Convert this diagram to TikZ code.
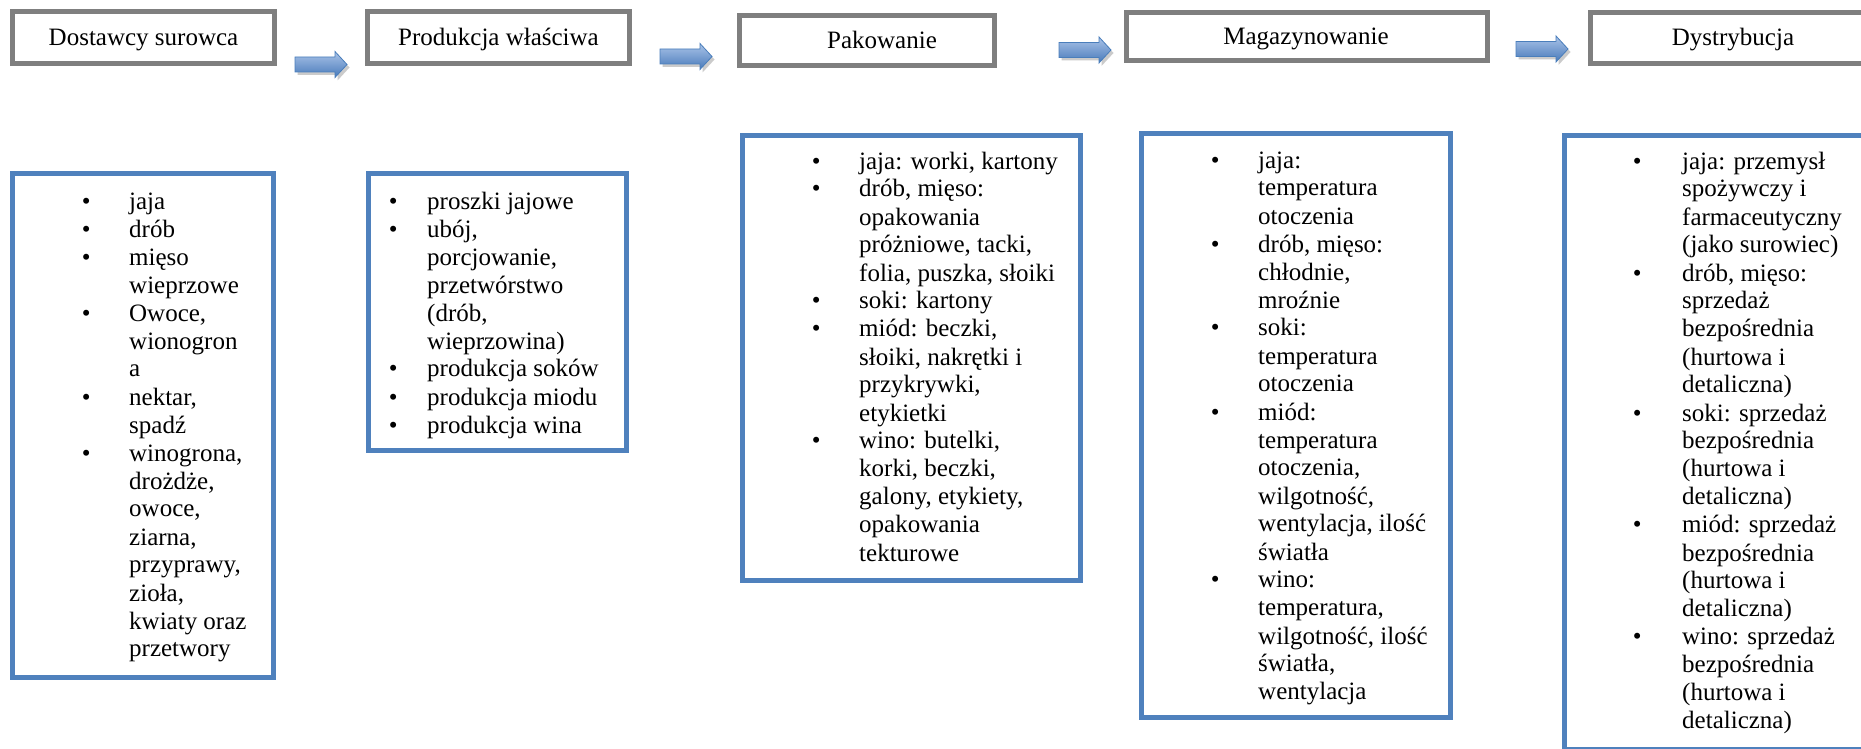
\documentclass[tikz,border=0pt]{standalone}
\usepackage{fontspec}
\setmainfont{Liberation Serif}
\definecolor{boxblue}{RGB}{79,129,189}
\definecolor{boxgray}{RGB}{127,127,127}
\definecolor{arrowtop}{RGB}{170,195,232}
\definecolor{arrowbot}{RGB}{72,122,186}
\definecolor{arrowline}{RGB}{74,126,187}
\newlength\bulw
\newcommand\bitem[1]{\hbox{\hbox to \bulw{•\hfil}#1}}
\newcommand\citem[1]{\hbox{\hskip\bulw #1}}
\newcommand\listbox[2]{\setlength\bulw{#1}\vtop{\baselineskip=28pt\lineskiplimit=-100pt #2}}
\tikzset{
  graybox/.style={draw=boxgray, line width=5pt},
  bluebox/.style={draw=boxblue, line width=5pt},
  toplabel/.style={anchor=base, inner sep=0pt},
  listtext/.style={anchor=base west, inner sep=0pt},
  arrowfill/.style={top color=arrowtop, bottom color=arrowbot, draw=arrowline, line width=0.8pt, line join=miter},
  arrowshadow/.style={fill=black!45, opacity=0.45}
}
\newcommand\blockarrow[3]{%
  \coordinate (#1) at (#2,#3);
  \path[arrowshadow] ([shift={(2.5,3)}]#1) ++(0,-7.5) -- ++(40,0) -- ++(0,-5.5) -- ++(12,13) -- ++(-12,13) -- ++(0,-5.5) -- ++(-40,0) -- cycle;
  \path[arrowfill] (#1) ++(0,-7.5) -- ++(40,0) -- ++(0,-5.5) -- ++(12,13) -- ++(-12,13) -- ++(0,-5.5) -- ++(-40,0) -- cycle;
}
\begin{document}
\begin{tikzpicture}[x=1pt, y=-1pt, font=\fontsize{25}{28}\selectfont]
\useasboundingbox[fill=white] (0,0) rectangle (1861,749);

% top process boxes
\draw[graybox] (12.5,11.5) rectangle (274.5,63.5);
\node[toplabel] (t1) at (143.5,46) {Dostawcy surowca};
\draw[graybox] (367.5,11.5) rectangle (629.5,63.5);
\node[toplabel] (t2) at (498.5,46) {Produkcja właściwa};
\draw[graybox] (739.5,15.5) rectangle (994.5,65.5);
\node[toplabel] (t3) at (882,49) {Pakowanie};
\draw[graybox] (1126.5,12.5) rectangle (1487.5,60.5);
\node[toplabel] (t4) at (1306,45) {Magazynowanie};
\draw[graybox] (1590.5,12.5) rectangle (1885,63.5);
\node[toplabel] (t5) at (1733,46) {Dystrybucja};

% block arrows
\blockarrow{a1}{295}{64.5}
\blockarrow{a2}{660}{56.5}
\blockarrow{a3}{1059}{50}
\blockarrow{a4}{1516}{49}

% lower boxes
\draw[bluebox] (12.5,173.5) rectangle (273.5,677.5);
\node[listtext] (l1) at (81.6,209) {\listbox{47.4pt}{%
\bitem{jaja}
\bitem{drób}
\bitem{mięso}
\citem{wieprzowe}
\bitem{Owoce,}
\citem{wionogron}
\citem{a}
\bitem{nektar,}
\citem{spadź}
\bitem{winogrona,}
\citem{drożdże,}
\citem{owoce,}
\citem{ziarna,}
\citem{przyprawy,}
\citem{zioła,}
\citem{kwiaty oraz}
\citem{przetwory}}};

\draw[bluebox] (368.5,173.5) rectangle (626.5,450.5);
\node[listtext] (l2) at (388.6,209) {\listbox{38.4pt}{%
\bitem{proszki jajowe}
\bitem{ubój,}
\citem{porcjowanie,}
\citem{przetwórstwo}
\citem{(drób,}
\citem{wieprzowina)}
\bitem{produkcja soków}
\bitem{produkcja miodu}
\bitem{produkcja wina}}};

\draw[bluebox] (742.5,135.5) rectangle (1080.5,580.5);
\node[listtext] (l3) at (811.6,169) {\listbox{47.4pt}{%
\bitem{jaja: worki, kartony}
\bitem{drób, mięso:}
\citem{opakowania}
\citem{próżniowe, tacki,}
\citem{folia, puszka, słoiki}
\bitem{soki: kartony}
\bitem{miód: beczki,}
\citem{słoiki, nakrętki i}
\citem{przykrywki,}
\citem{etykietki}
\bitem{wino: butelki,}
\citem{korki, beczki,}
\citem{galony, etykiety,}
\citem{opakowania}
\citem{tekturowe}}};

\draw[bluebox] (1141.5,133.5) rectangle (1450.5,717.5);
\node[listtext] (l4) at (1210.6,168) {\listbox{47.4pt}{%
\bitem{jaja:}
\citem{temperatura}
\citem{otoczenia}
\bitem{drób, mięso:}
\citem{chłodnie,}
\citem{mroźnie}
\bitem{soki:}
\citem{temperatura}
\citem{otoczenia}
\bitem{miód:}
\citem{temperatura}
\citem{otoczenia,}
\citem{wilgotność,}
\citem{wentylacja, ilość}
\citem{światła}
\bitem{wino:}
\citem{temperatura,}
\citem{wilgotność, ilość}
\citem{światła,}
\citem{wentylacja}}};

\draw[bluebox] (1564.5,135.5) rectangle (1885,749);
\node[listtext] (l5) at (1632.6,169) {\listbox{49.4pt}{%
\bitem{jaja: przemysł}
\citem{spożywczy i}
\citem{farmaceutyczny}
\citem{(jako surowiec)}
\bitem{drób, mięso:}
\citem{sprzedaż}
\citem{bezpośrednia}
\citem{(hurtowa i}
\citem{detaliczna)}
\bitem{soki: sprzedaż}
\citem{bezpośrednia}
\citem{(hurtowa i}
\citem{detaliczna)}
\bitem{miód: sprzedaż}
\citem{bezpośrednia}
\citem{(hurtowa i}
\citem{detaliczna)}
\bitem{wino: sprzedaż}
\citem{bezpośrednia}
\citem{(hurtowa i}
\citem{detaliczna)}}};
\end{tikzpicture}
\end{document}
